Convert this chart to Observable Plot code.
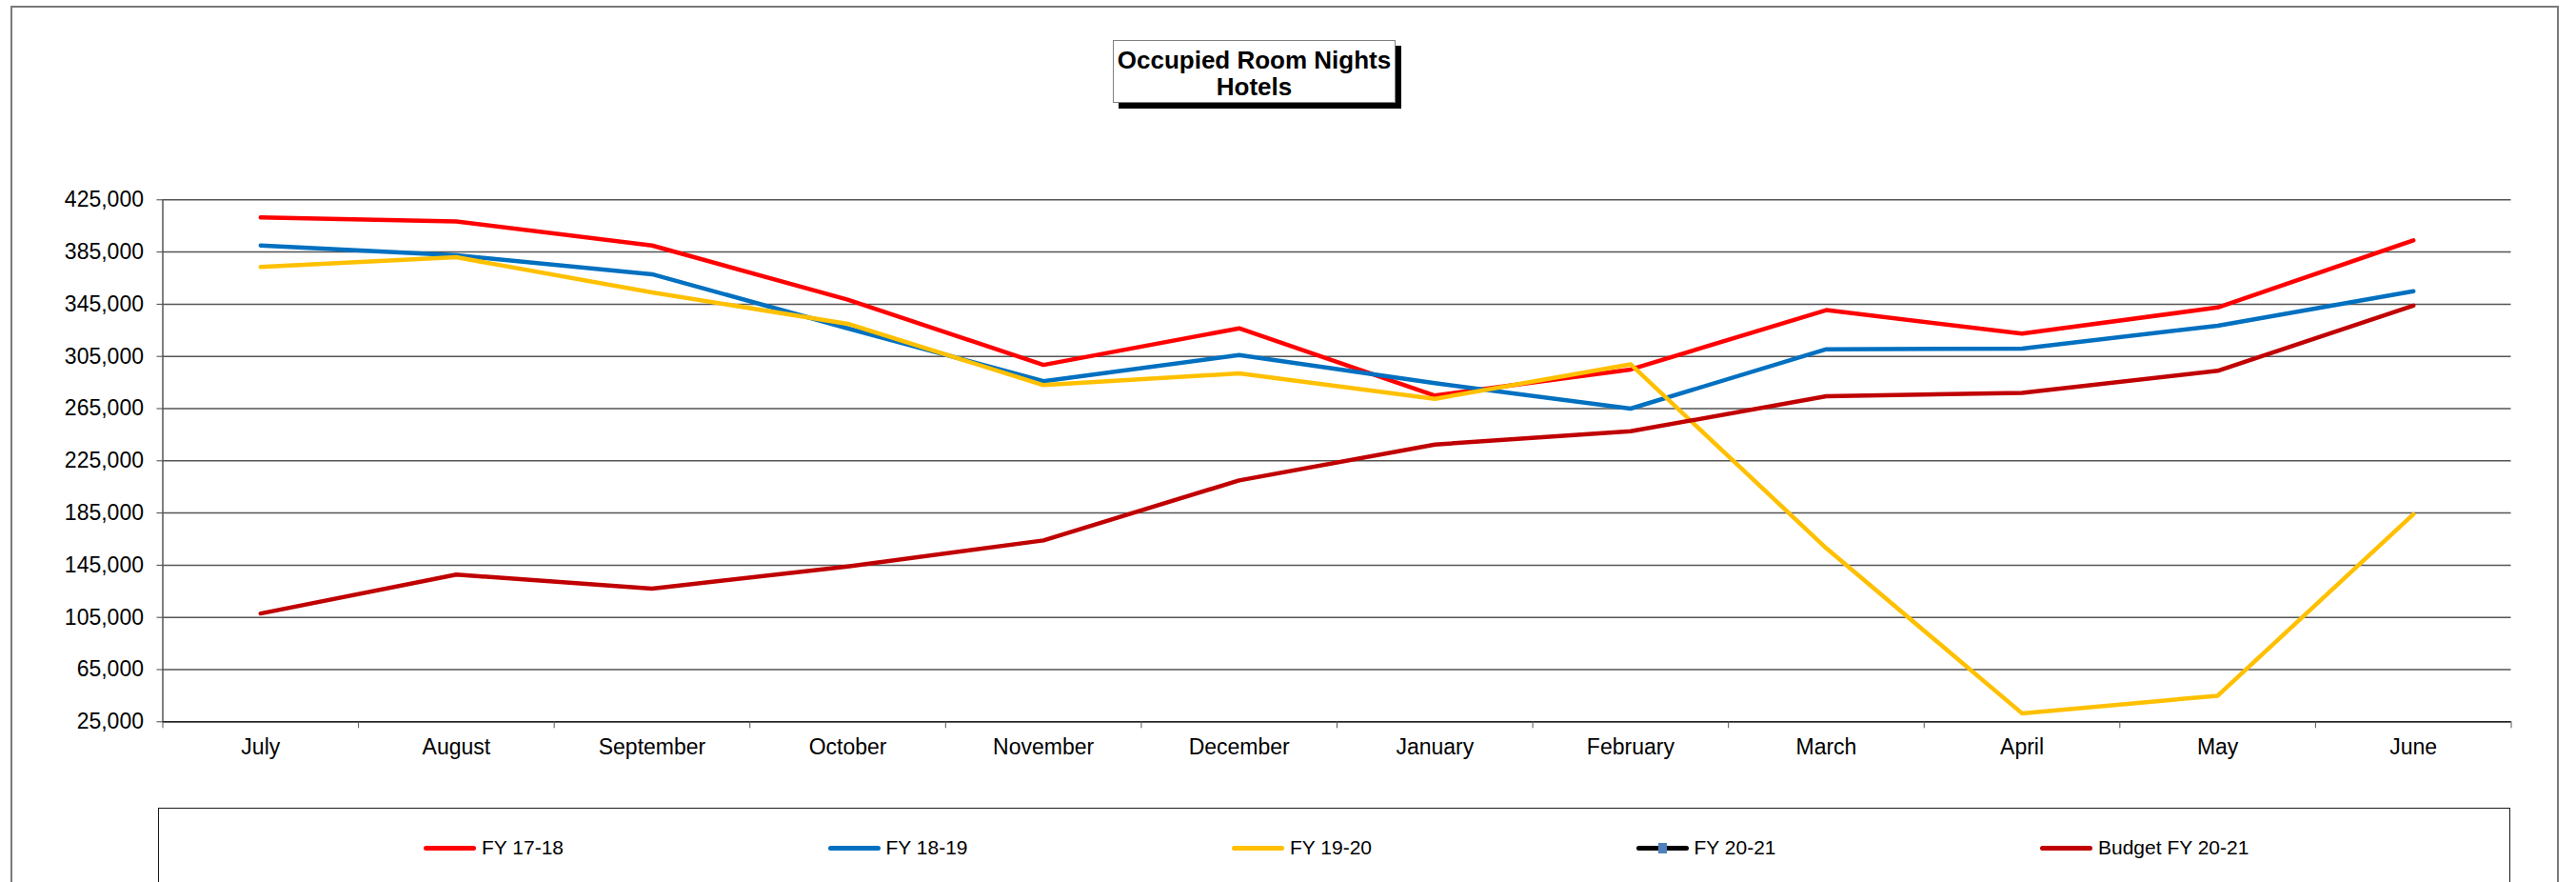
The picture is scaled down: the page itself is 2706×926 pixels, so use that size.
<!DOCTYPE html>
<html>
<head>
<meta charset="utf-8">
<script src="https://cdn.jsdelivr.net/npm/d3@7"></script>
<script src="https://cdn.jsdelivr.net/npm/@observablehq/plot@0.6"></script>
<style>
  html, body { margin: 0; padding: 0; background: #fff; }
  body { font-family: "Liberation Sans", Arial, sans-serif; }
  #wrap { position: relative; width: 2706px; height: 926px; overflow: hidden; background: #fff; }
  #chart { position: absolute; left: 0; top: 0; }
  #outer { position: absolute; left: 11px; top: 6px; width: 2677px; height: 960px; border: 2px solid #7a7a7a; box-sizing: border-box; pointer-events: none; }
  #title { position: absolute; left: 1169px; top: 42px; width: 297px; height: 66px; box-sizing: border-box;
           border: 1.5px solid #808080; background: #fff; box-shadow: 6px 6px 0 #000;
           font-weight: bold; font-size: 26px; line-height: 28px; text-align: center; padding-top: 6px; color: #000; }
  #legend { position: absolute; left: 166px; top: 848px; width: 2471px; height: 120px; box-sizing: border-box;
            border: 1.5px solid #1a1a1a; background: #fff; }
  #legend .items { position: absolute; left: 278px; top: 30px; display: grid; grid-template-columns: repeat(5, 424.5px); }
  #legend .item { display: flex; align-items: center; height: 22px; font-size: 21px; color: #000; }
  #legend .sw { position: relative; width: 55px; height: 5px; border-radius: 2.5px; margin-right: 6px; }
  #legend .mk { position: absolute; left: 23px; top: -3px; width: 9px; height: 11px; background: #4F81BD; }
</style>
</head>
<body>
<div id="wrap">
  <div id="chart"></div>
  <div id="title">Occupied Room Nights<br>Hotels</div>
  <div id="legend"><div class="items"></div></div>
  <div id="outer"></div>
</div>
<script>
// ---- data ----
const months = ["July", "August", "September", "October", "November", "December",
                "January", "February", "March", "April", "May", "June"];
const fy1718 = [411500, 408500, 390000, 348500, 298500, 326500, 275000, 295000, 340500, 322500, 342500, 394000];
const fy1819 = [390000, 382500, 368000, 326500, 286000, 306000, 284500, 265000, 310500, 311000, 328500, 355000];
const fy1920 = [373500, 381000, 354000, 330000, 283000, 292000, 272500, 299000, 158000, 31500, 45000, 184000];
const fy2021 = [];
const budget2021 = [108000, 137800, 127000, 144000, 164000, 210000, 237500, 247600, 274500, 277000, 294000, 344000];
const seriesNames = ["FY 17-18", "FY 18-19", "FY 19-20", "FY 20-21", "Budget FY 20-21"];
const seriesColors = ["#FF0000", "#0070C0", "#FFC000", "#000000", "#C00000"];
const yTicks = [25000, 65000, 105000, 145000, 185000, 225000, 265000, 305000, 345000, 385000, 425000];

const seriesValues = [fy1718, fy1819, fy1920, fy2021, budget2021];
const rows = seriesValues.flatMap((vals, s) =>
  vals.map((v, i) => ({i, month: months[i], value: v, series: seriesNames[s]})));

const monthIdx = months.map((m, i) => i);
const bounds = [-0.5, ...monthIdx.map(i => i + 0.5)];

const chart = Plot.plot({
  width: 2706,
  height: 926,
  marginLeft: 170.5,
  marginRight: 68.5,
  marginTop: 209.3,
  marginBottom: 168.7,
  style: {fontFamily: "'Liberation Sans', Arial, sans-serif", background: "transparent", color: "#000"},
  x: {type: "linear", domain: [-0.5, months.length - 0.5], label: null},
  y: {domain: [yTicks[0], yTicks[yTicks.length - 1]], label: null},
  color: {domain: seriesNames, range: seriesColors},
  marks: [
    Plot.gridY({ticks: yTicks, stroke: "#555", strokeOpacity: 1, strokeWidth: 1.5}),
    Plot.ruleY([yTicks[0]], {stroke: "#222", strokeWidth: 1.5}),
    Plot.ruleX([-0.5], {y1: yTicks[0], y2: yTicks[yTicks.length - 1], stroke: "#555", strokeWidth: 1.5}),
    Plot.axisY({ticks: yTicks, tickSize: 6, tickPadding: 14, tickFormat: d3.format(","),
                fontSize: 23, stroke: "#444", label: null}),
    Plot.axisX({ticks: bounds, tickSize: 7, tickFormat: () => "", stroke: "#555", label: null}),
    Plot.axisX({ticks: monthIdx, tickSize: 0, tickPadding: 18, tickFormat: i => months[i],
                fontSize: 23, label: null}),
    Plot.line(rows, {x: "i", y: "value", z: "series", stroke: "series",
                     strokeWidth: 4.5, strokeLinejoin: "round", strokeLinecap: "round"})
  ]
});
document.getElementById("chart").appendChild(chart);

// ---- legend ----
const items = document.querySelector("#legend .items");
seriesNames.forEach((name, s) => {
  const it = document.createElement("div");
  it.className = "item";
  const sw = document.createElement("div");
  sw.className = "sw";
  sw.style.background = seriesColors[s];
  if (name === "FY 20-21") {
    const mk = document.createElement("div");
    mk.className = "mk";
    sw.appendChild(mk);
  }
  it.appendChild(sw);
  const tx = document.createElement("span");
  tx.textContent = name;
  it.appendChild(tx);
  items.appendChild(it);
});
</script>
</body>
</html>
